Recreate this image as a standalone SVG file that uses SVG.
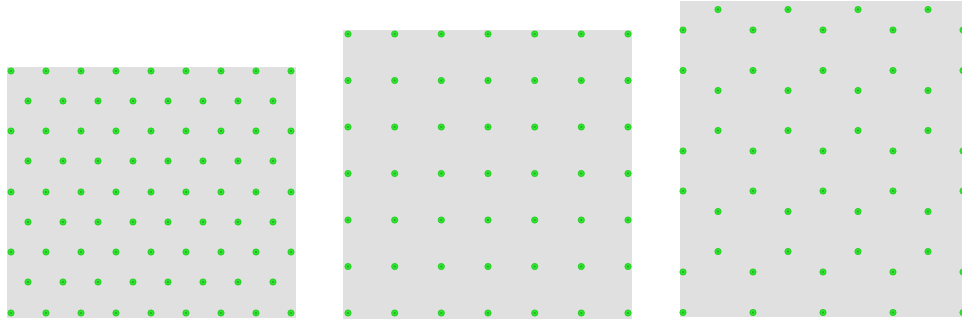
<svg xmlns="http://www.w3.org/2000/svg" xmlns:xlink="http://www.w3.org/1999/xlink" width="962" height="321" viewBox="0 0 962 321">
<style>
.bg{fill:#e0e0e0}
.d{fill:#2ee82e;stroke:#18c818;stroke-width:0.8}
.c{fill:#2b6b2b;opacity:0.55}
</style>
<defs>
<g id="p"><circle class="d" r="3.1"/><circle class="c" r="1.1"/></g>
</defs>
<rect width="962" height="321" fill="#ffffff"/>
<g id="panel1">
<rect class="bg" x="7" y="67" width="289" height="251"/>
<g id="p1dots"></g>
</g>
<g id="panel2">
<rect class="bg" x="343" y="30" width="289" height="289"/>
</g>
<g id="panel3">
<rect class="bg" x="680" y="1" width="289" height="316"/>
</g>
<g id="dots1">
<use href="#p" x="11" y="71"/><use href="#p" x="46" y="71"/><use href="#p" x="81" y="71"/><use href="#p" x="116" y="71"/><use href="#p" x="151" y="71"/><use href="#p" x="186" y="71"/><use href="#p" x="221" y="71"/><use href="#p" x="256" y="71"/><use href="#p" x="291" y="71"/>
<use href="#p" x="28" y="101"/><use href="#p" x="63" y="101"/><use href="#p" x="98" y="101"/><use href="#p" x="133" y="101"/><use href="#p" x="168" y="101"/><use href="#p" x="203" y="101"/><use href="#p" x="238" y="101"/><use href="#p" x="273" y="101"/>
<use href="#p" x="11" y="131"/><use href="#p" x="46" y="131"/><use href="#p" x="81" y="131"/><use href="#p" x="116" y="131"/><use href="#p" x="151" y="131"/><use href="#p" x="186" y="131"/><use href="#p" x="221" y="131"/><use href="#p" x="256" y="131"/><use href="#p" x="291" y="131"/>
<use href="#p" x="28" y="161"/><use href="#p" x="63" y="161"/><use href="#p" x="98" y="161"/><use href="#p" x="133" y="161"/><use href="#p" x="168" y="161"/><use href="#p" x="203" y="161"/><use href="#p" x="238" y="161"/><use href="#p" x="273" y="161"/>
<use href="#p" x="11" y="192"/><use href="#p" x="46" y="192"/><use href="#p" x="81" y="192"/><use href="#p" x="116" y="192"/><use href="#p" x="151" y="192"/><use href="#p" x="186" y="192"/><use href="#p" x="221" y="192"/><use href="#p" x="256" y="192"/><use href="#p" x="291" y="192"/>
<use href="#p" x="28" y="222"/><use href="#p" x="63" y="222"/><use href="#p" x="98" y="222"/><use href="#p" x="133" y="222"/><use href="#p" x="168" y="222"/><use href="#p" x="203" y="222"/><use href="#p" x="238" y="222"/><use href="#p" x="273" y="222"/>
<use href="#p" x="11" y="252"/><use href="#p" x="46" y="252"/><use href="#p" x="81" y="252"/><use href="#p" x="116" y="252"/><use href="#p" x="151" y="252"/><use href="#p" x="186" y="252"/><use href="#p" x="221" y="252"/><use href="#p" x="256" y="252"/><use href="#p" x="291" y="252"/>
<use href="#p" x="28" y="282"/><use href="#p" x="63" y="282"/><use href="#p" x="98" y="282"/><use href="#p" x="133" y="282"/><use href="#p" x="168" y="282"/><use href="#p" x="203" y="282"/><use href="#p" x="238" y="282"/><use href="#p" x="273" y="282"/>
<use href="#p" x="11" y="313"/><use href="#p" x="46" y="313"/><use href="#p" x="81" y="313"/><use href="#p" x="116" y="313"/><use href="#p" x="151" y="313"/><use href="#p" x="186" y="313"/><use href="#p" x="221" y="313"/><use href="#p" x="256" y="313"/><use href="#p" x="291" y="313"/>
</g>
<g id="dots2">
<use href="#p" x="348" y="34"/><use href="#p" x="394.7" y="34"/><use href="#p" x="441.3" y="34"/><use href="#p" x="488" y="34"/><use href="#p" x="534.7" y="34"/><use href="#p" x="581.3" y="34"/><use href="#p" x="628" y="34"/>
<use href="#p" x="348" y="80.5"/><use href="#p" x="394.7" y="80.5"/><use href="#p" x="441.3" y="80.5"/><use href="#p" x="488" y="80.5"/><use href="#p" x="534.7" y="80.5"/><use href="#p" x="581.3" y="80.5"/><use href="#p" x="628" y="80.5"/>
<use href="#p" x="348" y="127"/><use href="#p" x="394.7" y="127"/><use href="#p" x="441.3" y="127"/><use href="#p" x="488" y="127"/><use href="#p" x="534.7" y="127"/><use href="#p" x="581.3" y="127"/><use href="#p" x="628" y="127"/>
<use href="#p" x="348" y="173.5"/><use href="#p" x="394.7" y="173.5"/><use href="#p" x="441.3" y="173.5"/><use href="#p" x="488" y="173.5"/><use href="#p" x="534.7" y="173.5"/><use href="#p" x="581.3" y="173.5"/><use href="#p" x="628" y="173.5"/>
<use href="#p" x="348" y="220"/><use href="#p" x="394.7" y="220"/><use href="#p" x="441.3" y="220"/><use href="#p" x="488" y="220"/><use href="#p" x="534.7" y="220"/><use href="#p" x="581.3" y="220"/><use href="#p" x="628" y="220"/>
<use href="#p" x="348" y="266.5"/><use href="#p" x="394.7" y="266.5"/><use href="#p" x="441.3" y="266.5"/><use href="#p" x="488" y="266.5"/><use href="#p" x="534.7" y="266.5"/><use href="#p" x="581.3" y="266.5"/><use href="#p" x="628" y="266.5"/>
<use href="#p" x="348" y="313"/><use href="#p" x="394.7" y="313"/><use href="#p" x="441.3" y="313"/><use href="#p" x="488" y="313"/><use href="#p" x="534.7" y="313"/><use href="#p" x="581.3" y="313"/><use href="#p" x="628" y="313"/>
</g>
<g id="dots3">
<use href="#p" x="718" y="9.5"/><use href="#p" x="788" y="9.5"/><use href="#p" x="858" y="9.5"/><use href="#p" x="928" y="9.5"/>
<use href="#p" x="683" y="30"/><use href="#p" x="753" y="30"/><use href="#p" x="823" y="30"/><use href="#p" x="893" y="30"/><use href="#p" x="963" y="30"/>
<use href="#p" x="683" y="70.5"/><use href="#p" x="753" y="70.5"/><use href="#p" x="823" y="70.5"/><use href="#p" x="893" y="70.5"/><use href="#p" x="963" y="70.5"/>
<use href="#p" x="718" y="90.5"/><use href="#p" x="788" y="90.5"/><use href="#p" x="858" y="90.5"/><use href="#p" x="928" y="90.5"/>
<use href="#p" x="718" y="130.5"/><use href="#p" x="788" y="130.5"/><use href="#p" x="858" y="130.5"/><use href="#p" x="928" y="130.5"/>
<use href="#p" x="683" y="151"/><use href="#p" x="753" y="151"/><use href="#p" x="823" y="151"/><use href="#p" x="893" y="151"/><use href="#p" x="963" y="151"/>
<use href="#p" x="683" y="191"/><use href="#p" x="753" y="191"/><use href="#p" x="823" y="191"/><use href="#p" x="893" y="191"/><use href="#p" x="963" y="191"/>
<use href="#p" x="718" y="211.5"/><use href="#p" x="788" y="211.5"/><use href="#p" x="858" y="211.5"/><use href="#p" x="928" y="211.5"/>
<use href="#p" x="718" y="251.5"/><use href="#p" x="788" y="251.5"/><use href="#p" x="858" y="251.5"/><use href="#p" x="928" y="251.5"/>
<use href="#p" x="683" y="272"/><use href="#p" x="753" y="272"/><use href="#p" x="823" y="272"/><use href="#p" x="893" y="272"/><use href="#p" x="963" y="272"/>
<use href="#p" x="683" y="312.5"/><use href="#p" x="753" y="312.5"/><use href="#p" x="823" y="312.5"/><use href="#p" x="893" y="312.5"/><use href="#p" x="963" y="312.5"/>
</g>
</svg>
